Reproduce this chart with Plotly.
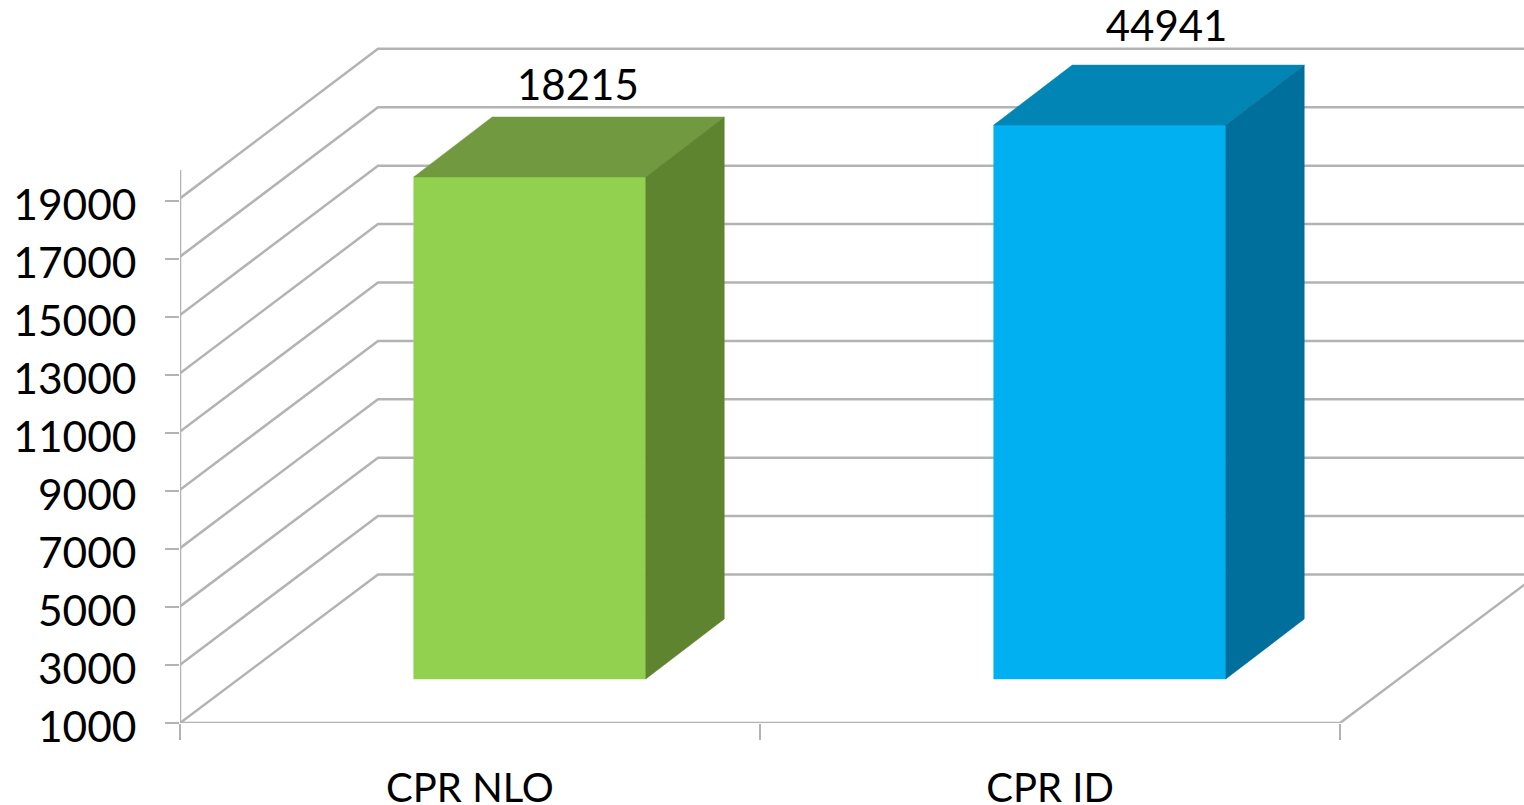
import plotly.graph_objects as go

# Data
categories = ["CPR NLO", "CPR ID"]
value_labels = [18215, 44941]
drawn_tops = [18310, 20100]          # the heights the bars are actually drawn to
axis_ticks = [1000, 3000, 5000, 7000, 9000, 11000, 13000, 15000, 17000, 19000]
axis_top = 20070

# Geometry in axis units
W, H, ML, MB = 1524, 805, 180, 82
PX_PER_CAT = 580.0
PX_PER_UNIT = 0.029
Y0 = 1000
x_max = (W - ML) / PX_PER_CAT
y_max = Y0 + (H - MB) / PX_PER_UNIT
wall_dx, wall_dy = 198 / PX_PER_CAT, 148.5 / PX_PER_UNIT
wall_front_scale, wall_back_scale = 1.005, 1.007
floor_dy = 44 / PX_PER_UNIT
bar_dx, bar_dy = 78.5 / PX_PER_CAT, 60 / PX_PER_UNIT
bar_starts = [0.403, 1.403]
bar_width = 0.4
label_shift = [0.083, 0.098]
label_lift = [966, 1180]

GRID = "#B3B3B3"
front = ["#92D050", "#00B0F0"]
top = ["#71993F", "#0085B5"]
side = ["#5F8430", "#006F9C"]
FONT = "Lato, Carlito, Calibri, sans-serif"

fig = go.Figure()


def line(xs, ys, clip=True):
    fig.add_trace(go.Scatter(x=xs, y=ys, mode="lines", line=dict(color=GRID, width=2.5),
                             hoverinfo="skip", showlegend=False, cliponaxis=clip))


def face(xs, ys, color):
    fig.add_trace(go.Scatter(x=xs, y=ys, mode="lines", fill="toself", fillcolor=color,
                             line=dict(color=color, width=0.5), hoverinfo="skip",
                             showlegend=False))


for v in axis_ticks:
    rise = v - Y0
    back = Y0 + rise * wall_back_scale + wall_dy
    line([0, wall_dx, x_max + 0.1], [Y0 + rise * wall_front_scale, back, back])
line([0, 0], [Y0, axis_top], clip=False)
line([0, 2], [Y0, Y0], clip=False)
line([2, 2 + wall_dx], [Y0, Y0 + wall_dy])

for i in range(len(categories)):
    x0 = bar_starts[i]
    x1 = x0 + bar_width
    base = Y0 + floor_dy                 # front face stands on the floor at its depth
    px_top = base + (drawn_tops[i] - Y0)
    face([x0, x1, x1, x0, x0], [base, base, px_top, px_top, base], front[i])
    face([x0, x0 + bar_dx, x1 + bar_dx, x1, x0],
         [px_top, px_top + bar_dy, px_top + bar_dy, px_top, px_top], top[i])
    face([x1, x1 + bar_dx, x1 + bar_dx, x1, x1],
         [base, base + bar_dy, px_top + bar_dy, px_top, base], side[i])
    fig.add_trace(go.Scatter(x=[(x0 + x1) / 2 + label_shift[i]],
                             y=[px_top + bar_dy + label_lift[i]],
                             mode="text", text=[str(value_labels[i])],
                             textposition="middle center",
                             textfont=dict(family=FONT, size=42, color="#000000"),
                             hoverinfo="skip", showlegend=False, cliponaxis=False))

fig.update_layout(
    width=W, height=H, margin=dict(l=ML, r=0, t=0, b=MB, pad=0, autoexpand=False),
    paper_bgcolor="white", plot_bgcolor="white", showlegend=False,
    font=dict(family=FONT, size=40, color="#000000"),
    xaxis=dict(range=[0, x_max], tickmode="array", tickvals=[0.5, 1.5], ticktext=categories,
               ticks="", showgrid=False, zeroline=False, showline=False, automargin=False,
               ticklabelstandoff=38, tickfont=dict(family=FONT, size=40, color="#000000"),
               minor=dict(tickmode="array", tickvals=[0, 1, 2], ticks="outside", ticklen=16,
                          tickwidth=2, tickcolor=GRID, showgrid=False)),
    yaxis=dict(range=[Y0, y_max], tickmode="array", tickvals=axis_ticks,
               ticktext=[str(v) for v in axis_ticks], ticks="outside", ticklen=14,
               tickwidth=2, tickcolor=GRID, showgrid=False, zeroline=False, showline=False,
               automargin=False, ticklabelstandoff=20, ticklabelshift=4,
               tickfont=dict(family=FONT, size=42.5, color="#000000")),
)

fig.write_html("out.html", config={"displayModeBar": False},
               post_script="document.body.style.margin='0';")
